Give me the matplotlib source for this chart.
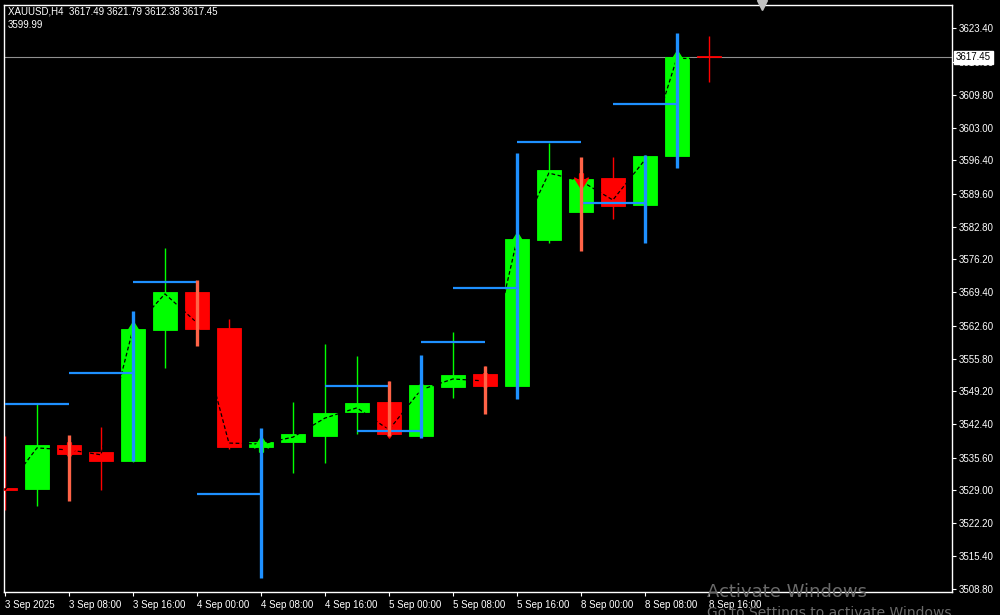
import matplotlib
matplotlib.use("Agg")
import matplotlib.pyplot as plt
from matplotlib.path import Path
import numpy as np

# H4 bars from 3 Sep 2025 00:00 to 8 Sep 16:00
opens  = [3529.4, 3529.3, 3538.2, 3536.8, 3534.9, 3561.7, 3569.5, 3562.2, 3537.7, 3538.9, 3540.0, 3545.0,
          3547.0, 3540.0, 3550.1, 3552.7, 3550.3, 3580.1, 3585.9, 3592.8, 3587.3, 3597.4, 3617.49]
highs  = [3540.0, 3546.8, 3539.2, 3541.9, 3562.8, 3578.5, 3571.7, 3564.0, 3539.4, 3547.0, 3558.9, 3556.4,
          3551.3, 3551.1, 3561.3, 3554.4, 3580.9, 3600.0, 3594.4, 3597.1, 3597.5, 3618.6, 3621.79]
lows   = [3524.9, 3525.7, 3535.9, 3528.9, 3534.7, 3554.0, 3558.6, 3537.4, 3535.8, 3532.5, 3534.5, 3540.5,
          3539.9, 3539.9, 3547.8, 3544.7, 3550.1, 3579.6, 3585.2, 3584.5, 3587.0, 3597.1, 3612.38]
closes = [3529.1, 3538.2, 3536.4, 3535.0, 3561.9, 3569.5, 3561.9, 3537.7, 3538.8, 3540.5, 3544.7, 3546.8,
          3540.5, 3550.5, 3552.5, 3550.3, 3580.3, 3594.4, 3592.6, 3587.1, 3597.3, 3617.5, 3617.45]

# black dashed line (fast average)
ma_line = [3529.0, 3537.6, 3537.2, 3536.2, 3561.9, 3569.1, 3563.2, 3538.6, 3538.4, 3539.8, 3543.7, 3545.8,
           3541.3, 3549.5, 3551.7, 3551.3, 3580.1, 3593.8, 3592.2, 3588.3, 3596.5, 3617.3, 3617.1]

# blue levels: start bar, price (each spans two bars)
level_start = [0, 2, 4, 6, 10, 11, 13, 14, 16, 18, 19]
level_price = [3546.6, 3552.9, 3571.5, 3528.2, 3550.2, 3541.1, 3559.3, 3570.3, 3600.2, 3587.7, 3607.9]

# blue vertical bars (bullish signal range)
blue_bar  = [4, 8, 13, 16, 20, 21]
blue_high = [3565.6, 3541.7, 3556.6, 3597.9, 3597.5, 3622.5]
blue_low  = [3534.9, 3511.1, 3539.7, 3547.6, 3579.6, 3594.9]

# orange-red vertical bars (bearish signal range)
red_bar  = [2, 6, 12, 15, 18]
red_high = [3540.2, 3571.9, 3551.3, 3554.4, 3597.1]
red_low  = [3526.8, 3558.4, 3540.0, 3544.5, 3577.8]

buy_arrows = [4, 8, 13, 16, 21]
sell_arrows = [2, 6, 12, 15, 18]

time_labels = ["3 Sep 2025", "3 Sep 08:00", "3 Sep 16:00", "4 Sep 00:00", "4 Sep 08:00", "4 Sep 16:00",
               "5 Sep 00:00", "5 Sep 08:00", "5 Sep 16:00", "8 Sep 00:00", "8 Sep 08:00", "8 Sep 16:00"]
price_ticks = [3508.80, 3515.40, 3522.20, 3529.00, 3535.60, 3542.40, 3549.20, 3555.80, 3562.60,
               3569.40, 3576.20, 3582.80, 3589.60, 3596.40, 3603.00, 3609.80, 3616.60, 3623.40]

last_price = 3617.45

GREEN = "#00ff00"
RED = "#ff0000"
BLUE = "#1e90ff"
TOMATO = "#ff6347"

plt.rcParams['font.family'] = ['Liberation Sans', 'DejaVu Sans']

fig = plt.figure(figsize=(10, 6.15), dpi=100, facecolor="black")
ax = fig.add_axes([0.004, 0.0374, 0.948, 0.9545])
ax.set_facecolor("black")

x = np.arange(len(opens))
o = np.array(opens); c = np.array(closes)
up = c >= o
colors = np.where(up, GREEN, RED)

# wicks and bodies
ax.vlines(x, lows, highs, colors=colors, linewidth=1.0, zorder=2)
bottoms = np.minimum(o, c)
heights = np.maximum(np.abs(c - o), 0.2)
ax.bar(x, heights, bottom=bottoms, width=0.77, color=colors, edgecolor=colors, linewidth=0.6, zorder=3)

# dashed average
ax.plot(x, ma_line, color="black", linestyle=(0, (3, 2)), linewidth=0.9, zorder=4)

# arrows
arrow_down = Path([(-0.25, 1), (0.25, 1), (0.25, 0.1), (0.9, 0.45), (0, -1), (-0.9, 0.45), (-0.25, 0.1), (-0.25, 1)],
                  [Path.MOVETO] + [Path.LINETO] * 6 + [Path.CLOSEPOLY])
arrow_up = Path([(-0.25, -1), (0.25, -1), (0.25, -0.1), (0.9, -0.45), (0, 1), (-0.9, -0.45), (-0.25, -0.1), (-0.25, -1)],
                [Path.MOVETO] + [Path.LINETO] * 6 + [Path.CLOSEPOLY])
ma = np.array(ma_line)
ax.plot(buy_arrows, ma[buy_arrows], linestyle="none", marker=arrow_up, markersize=11, color=GREEN, zorder=5)
ax.plot(sell_arrows, ma[sell_arrows], linestyle="none", marker=arrow_down, markersize=11, color=RED, zorder=5)

# blue levels
for s, p in zip(level_start, level_price):
    ax.hlines(p, s, s + 2, colors=BLUE, linewidth=1.6, zorder=6)
ax.vlines(blue_bar, blue_low, blue_high, colors=BLUE, linewidth=2.4, zorder=6)
ax.vlines(red_bar, red_low, red_high, colors=TOMATO, linewidth=2.4, zorder=6)

# last price line
ax.axhline(last_price, color="#909090", linewidth=0.8, zorder=1)

ax.set_xlim(-0.03, 29.6)
ax.set_ylim(3508.14, 3628.18)

for s in ax.spines.values():
    s.set_color("white")
    s.set_linewidth(1)

ax.yaxis.tick_right()
ax.set_yticks(price_ticks)
ax.set_yticklabels([f"{v:.2f}" for v in price_ticks])
ax.set_xticks(np.arange(0, 2 * len(time_labels), 2))
ax.set_xticklabels(time_labels, ha="left")
ax.tick_params(colors="white", labelsize=7, length=3, width=0.8, pad=2)
ax.tick_params(axis="x", pad=3)

# price label box
ax.text(1.004, last_price, f"{last_price:.2f}", transform=ax.get_yaxis_transform(), color="black",
        fontsize=7, va="center", ha="left", zorder=10,
        bbox=dict(boxstyle="square,pad=0.2", facecolor="white", edgecolor="white"), clip_on=False)

# chart shift marker
ax.plot([23.66], [1.0], transform=ax.get_xaxis_transform(), marker="v", markersize=7,
        color="#c0c0c0", clip_on=False, zorder=10)

fig.text(0.008, 1 - 12 / 615, "XAUUSD,H4  3617.49 3621.79 3612.38 3617.45", color="white", fontsize=7, va="center")
fig.text(0.008, 1 - 25 / 615, "3599.99", color="white", fontsize=7, va="center")

# OS watermark
fig.text(0.707, 1 - 592 / 615, "Activate Windows", color="#6a6a6a", fontsize=13, va="center",
         family="DejaVu Sans")
fig.text(0.707, 1 - 613 / 615, "Go to Settings to activate Windows.", color="#6a6a6a", fontsize=10, va="center",
         family="DejaVu Sans")

fig.savefig("out.png", dpi=100, facecolor="black")
